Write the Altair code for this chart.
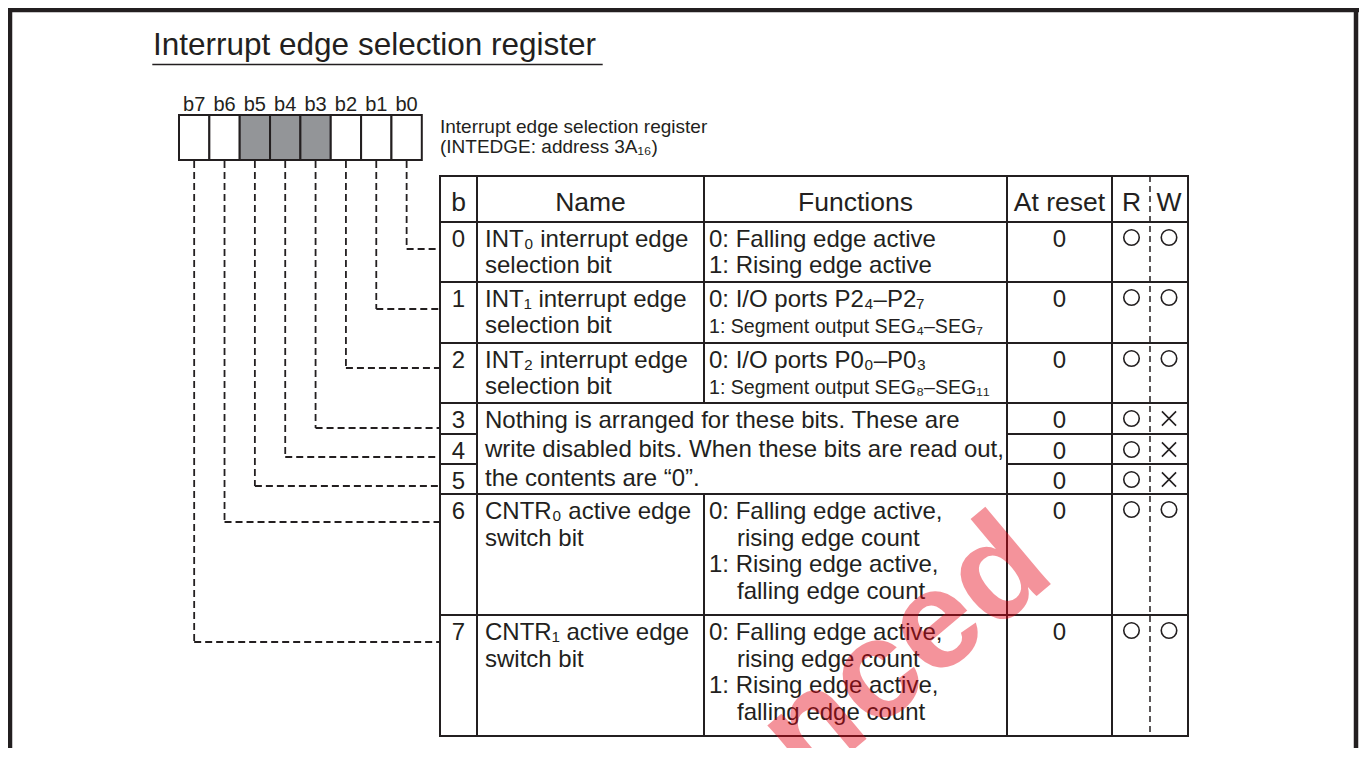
import altair as alt
import pandas as pd

# ---------------- content ----------------
TITLE = "Interrupt edge selection register"
REG_CAPTION = ["Interrupt edge selection register", "(INTEDGE: address 3A\u2081\u2086)"]
BIT_LABELS = ["b7", "b6", "b5", "b4", "b3", "b2", "b1", "b0"]
BIT_SHADED = [False, False, True, True, True, False, False, False]
HEADERS = ["b", "Name", "Functions", "At reset", "R", "W"]
ROW_BITS = ["0", "1", "2", "3", "4", "5", "6", "7"]
NAMES = [
    ["INT\u2080 interrupt edge", "selection bit"],
    ["INT\u2081 interrupt edge", "selection bit"],
    ["INT\u2082 interrupt edge", "selection bit"],
    [], [], [],
    ["CNTR\u2080 active edge", "switch bit"],
    ["CNTR\u2081 active edge", "switch bit"],
]
RESERVED_NOTE = [
    "Nothing is arranged for these bits. These are",
    "write disabled bits. When these bits are read out,",
    "the contents are \u201c0\u201d.",
]
FUNCTIONS = [
    ["0: Falling edge active", "1: Rising edge active"],
    ["0: I/O ports P2\u2084\u2013P2\u2087", "1: Segment output SEG\u2084\u2013SEG\u2087"],
    ["0: I/O ports P0\u2080\u2013P0\u2083", "1: Segment output SEG\u2088\u2013SEG\u2081\u2081"],
    [], [], [],
    ["0: Falling edge active,", "rising edge count", "1: Rising edge active,", "falling edge count"],
    ["0: Falling edge active,", "rising edge count", "1: Rising edge active,", "falling edge count"],
]
AT_RESET = ["0", "0", "0", "0", "0", "0", "0", "0"]
R_ACCESS = ["O", "O", "O", "O", "O", "O", "O", "O"]
W_ACCESS = ["O", "O", "O", "X", "X", "X", "O", "O"]
WATERMARK = "nced"

# ---------------- layout (page pixels) ----------------
W_, H_ = 1351, 740
X0, Y0 = 8, 8
INK = "#231f20"
FONT = "Liberation Sans"
BOX_X0, BOX_DX, BOX_Y0, BOX_Y1 = 179, 30.35, 115, 160
COLS = [440, 477, 704, 1007, 1112, 1150, 1188]
ROWS = [176, 222, 282, 343, 403, 434, 464, 494, 615, 736]
LEADER_Y = [249, 309, 368, 428, 457, 486, 522, 642]
FS_TITLE, FS_CAP, FS_BIT, FS_HEAD, FS_BODY, FS_SMALL = 31.5, 19, 20, 26.5, 24, 19.6

SX = alt.Scale(domain=[X0, X0 + W_], range=[0, W_])
SY = alt.Scale(domain=[Y0, Y0 + H_], range=[0, H_])


def ex(f):
    return alt.X(f, type="quantitative", scale=SX, axis=None)


def ey(f):
    return alt.Y(f, type="quantitative", scale=SY, axis=None)


# ---------------- build tables ----------------
left_txt, ctr_txt = [], []
left_txt.append(dict(x=153, y=55, t=TITLE, fs=FS_TITLE))
for i, line in enumerate(REG_CAPTION):
    left_txt.append(dict(x=440, y=133 + 19.5 * i, t=line, fs=FS_CAP))

box_centers = [BOX_X0 + BOX_DX * (i + 0.5) for i in range(8)]
for i, lab in enumerate(BIT_LABELS):
    ctr_txt.append(dict(x=box_centers[i], y=111, t=lab, fs=FS_BIT))

head_centers = [(COLS[0] + COLS[1]) / 2, (COLS[1] + COLS[2]) / 2, (COLS[2] + COLS[3]) / 2,
                (COLS[3] + COLS[4]) / 2, (COLS[4] + COLS[5]) / 2 + 0.5, (COLS[5] + COLS[6]) / 2]
for i, h in enumerate(HEADERS):
    ctr_txt.append(dict(x=head_centers[i], y=211, t=h, fs=FS_HEAD))

row_tops = ROWS[1:9]
for r in range(8):
    top = row_tops[r]
    base = top + 25
    ctr_txt.append(dict(x=head_centers[0], y=base, t=ROW_BITS[r], fs=FS_BODY))
    ctr_txt.append(dict(x=head_centers[3], y=base, t=AT_RESET[r], fs=FS_BODY))
    step = 26 if r < 3 else 26.7
    for j, line in enumerate(NAMES[r]):
        left_txt.append(dict(x=485, y=base + step * j, t=line, fs=FS_BODY))
    for j, line in enumerate(FUNCTIONS[r]):
        indent = 737 if not line[0].isdigit() else 709
        fs = FS_SMALL if "Segment" in line else FS_BODY
        left_txt.append(dict(x=indent, y=base + step * j, t=line, fs=fs))
for j, line in enumerate(RESERVED_NOTE):
    left_txt.append(dict(x=485, y=428 + 29 * j, t=line, fs=FS_BODY))

circles, crosses = [], []
for r in range(8):
    cy = row_tops[r] + 15.5
    for acc, cx in ((R_ACCESS[r], 1131.5), (W_ACCESS[r], 1169)):
        (circles if acc == "O" else crosses).append(dict(x=cx, y=cy))

boxes = [dict(x=BOX_X0 + BOX_DX * i, x2=BOX_X0 + BOX_DX * (i + 1), y=BOX_Y0, y2=BOX_Y1,
              fill="#939598" if BIT_SHADED[i] else "#ffffff") for i in range(8)]

solid = []
# frame
solid += [dict(x=8, x2=1359, y=10, y2=10, sw=4.5),
          dict(x=10, x2=10, y=8, y2=748, sw=4.5),
          dict(x=1356, x2=1356, y=8, y2=748, sw=4.5),
          dict(x=153, x2=602, y=64.5, y2=64.5, sw=1.4)]
# table horizontals
for yv in [176, 222, 282, 343, 403, 494, 615, 736]:
    solid.append(dict(x=COLS[0], x2=COLS[6], y=yv, y2=yv, sw=2))
for yv in [434, 464]:
    solid.append(dict(x=COLS[0], x2=COLS[1], y=yv, y2=yv, sw=2))
    solid.append(dict(x=COLS[3], x2=COLS[6], y=yv, y2=yv, sw=2))
# table verticals
for xv in [COLS[0], COLS[1], COLS[3], COLS[4], COLS[6]]:
    solid.append(dict(x=xv, x2=xv, y=176, y2=736, sw=2))
solid.append(dict(x=COLS[2], x2=COLS[2], y=176, y2=403, sw=2))
solid.append(dict(x=COLS[2], x2=COLS[2], y=494, y2=736, sw=2))

dashed = []
for i in range(8):
    bit = 7 - i  # box i holds bit 7-i
    cx = box_centers[i]
    ly = LEADER_Y[bit]
    dashed.append(dict(x=cx, x2=cx, y=BOX_Y1 + 1, y2=ly))
    dashed.append(dict(x=cx, x2=COLS[0], y=ly, y2=ly))

rw_div = [dict(x=COLS[5], x2=COLS[5], y=176, y2=736)]
wm = [dict(x=1058, y=578, t=WATERMARK)]

# ---------------- marks ----------------
rules_solid = alt.Chart(pd.DataFrame(solid)).mark_rule(color=INK, strokeCap="square").encode(
    x=ex("x"), x2=alt.X2("x2"), y=ey("y"), y2=alt.Y2("y2"),
    strokeWidth=alt.StrokeWidth("sw:Q", scale=None))
rules_dash = alt.Chart(pd.DataFrame(dashed)).mark_rule(
    color=INK, strokeWidth=1.8, strokeDash=[7, 4]).encode(
    x=ex("x"), x2=alt.X2("x2"), y=ey("y"), y2=alt.Y2("y2"))
rule_rw = alt.Chart(pd.DataFrame(rw_div)).mark_rule(
    color=INK, strokeWidth=1.5, strokeDash=[6, 4]).encode(
    x=ex("x"), x2=alt.X2("x2"), y=ey("y"), y2=alt.Y2("y2"))
rects = alt.Chart(pd.DataFrame(boxes)).mark_rect(stroke=INK, strokeWidth=2).encode(
    x=ex("x"), x2=alt.X2("x2"), y=ey("y"), y2=alt.Y2("y2"),
    fill=alt.Fill("fill:N", scale=None))
t_left = alt.Chart(pd.DataFrame(left_txt)).mark_text(
    align="left", baseline="alphabetic", font=FONT, color=INK).encode(
    x=ex("x"), y=ey("y"), text=alt.Text("t:N"), size=alt.Size("fs:Q", scale=None))
t_ctr = alt.Chart(pd.DataFrame(ctr_txt)).mark_text(
    align="center", baseline="alphabetic", font=FONT, color=INK).encode(
    x=ex("x"), y=ey("y"), text=alt.Text("t:N"), size=alt.Size("fs:Q", scale=None))
p_circ = alt.Chart(pd.DataFrame(circles)).mark_point(
    shape="circle", filled=False, size=240, strokeWidth=1.6, color=INK, opacity=1).encode(
    x=ex("x"), y=ey("y"))
p_cross = alt.Chart(pd.DataFrame(crosses)).mark_point(
    shape="M-1,-1L1,1M1,-1L-1,1", filled=False, size=200, strokeWidth=1.6, color=INK, opacity=1).encode(
    x=ex("x"), y=ey("y"))
t_wm = alt.Chart(pd.DataFrame(wm)).mark_text(
    align="right", baseline="alphabetic", angle=320, fontSize=140, fontWeight="bold",
    font=FONT, color="#e60012", opacity=0.42, clip=True).encode(
    x=ex("x"), y=ey("y"), text=alt.Text("t:N"))

chart = alt.layer(rects, rules_dash, rules_solid, rule_rw, t_left, t_ctr, p_circ, p_cross, t_wm).properties(
    width=W_, height=H_, padding=0, autosize="none", background="white"
).configure_view(stroke=None)

chart.save("out.html", embed_options={"renderer": "svg", "actions": False})
